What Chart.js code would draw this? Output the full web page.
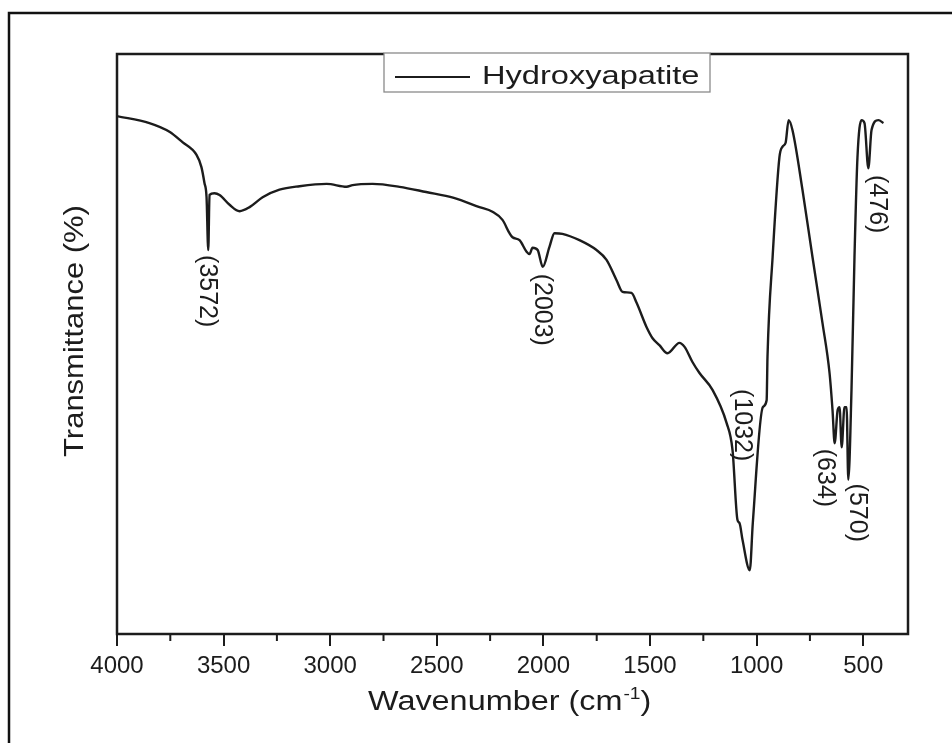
<!DOCTYPE html>
<html><head><meta charset="utf-8">
<script src="https://cdn.jsdelivr.net/npm/chart.js@4"></script>
<style>html,body{margin:0;padding:0;background:#fff}canvas{display:block}</style>
</head><body>
<canvas id="c" width="952" height="743"></canvas>
<script>
// ---- data ----
const seriesLabel = 'Hydroxyapatite';
const wavenumbers = [4000,3848,3754,3693,3627,3604,3590,3580,3572,3566,3543,3519,3472,3425,3378,3317,3238,3144,3017,2923,2895,2801,2675,2550,2420,2300,2239,2192,2159,2145,2112,2079,2065,2051,2027,2003,1972,1948,1911,1831,1751,1704,1657,1629,1587,1563,1516,1488,1456,1418,1362,1338,1301,1268,1207,1141,1113,1090,1080,1066,1032,1018,971,953,949,925,893,879,864,850,832,785,738,691,658,644,634,620,611,601,588,578,570,555,541,527,508,494,476,461,429,405];
const transmittance = [89.3,88.1,86.6,84.8,82.6,80.5,77.8,75.3,66.2,75.7,76.0,75.7,74.0,72.9,73.6,75.3,76.6,77.2,77.6,77.1,77.4,77.6,77.1,76.2,75.2,73.6,72.8,71.4,69.1,68.4,67.9,65.9,65.5,66.6,66.2,63.3,66.7,69.1,69.0,67.9,66.2,64.5,61.0,59.0,58.8,57.1,52.9,51.0,49.8,48.4,50.2,49.5,46.9,45.0,42.1,36.4,31.7,19.7,19.1,16.2,11.0,19.1,39.1,40.3,47.8,65.0,82.2,84.0,84.7,88.6,86.9,76.6,65.0,53.6,45.0,38.6,32.9,38.6,39.1,32.2,39.1,39.1,26.6,42.1,65.0,82.2,88.6,88.1,80.3,86.9,88.6,88.1];
const majorTicks = [4000,3500,3000,2500,2000,1500,1000,500];
const minorTicks = [3750,3250,2750,2250,1750,1250,750];
const peakLabels = ['(3572)','(2003)','(1032)','(634)','(570)','(476)'];
const peakLabelX = [3580,2009,1071,682,532,438];
const peakLabelY = [59.1,55.9,36.0,26.9,20.9,74.1];
const xTitleMain = 'Wavenumber (cm';
const xTitleSup = '-1';
const xTitleEnd = ')';
const yTitle = 'Transmittance (%)';

const INK = '#1c1c1c';
const FONT = '"Liberation Sans", Arial, sans-serif';

function stretchedText(ctx, text, x, y, sx, size, align) {
  ctx.save();
  ctx.translate(x, y);
  ctx.scale(sx, 1);
  ctx.font = size + 'px ' + FONT;
  ctx.textAlign = align || 'left';
  ctx.fillText(text, 0, 0);
  const w = ctx.measureText(text).width * sx;
  ctx.restore();
  return w;
}

const decor = {
  id: 'decor',
  beforeDraw(chart) {
    const ctx = chart.ctx;
    ctx.save();
    ctx.fillStyle = '#fff';
    ctx.fillRect(0, 0, chart.width, chart.height);
    ctx.strokeStyle = '#111';
    ctx.lineWidth = 2.5;
    ctx.beginPath();
    ctx.moveTo(9, chart.height);
    ctx.lineTo(9, 13);
    ctx.lineTo(chart.width, 13);
    ctx.stroke();
    ctx.restore();
  },
  afterDraw(chart) {
    const ctx = chart.ctx;
    const a = chart.chartArea;
    const xs = chart.scales.x, ys = chart.scales.y;
    ctx.save();
    // plot frame
    ctx.strokeStyle = INK;
    ctx.lineWidth = 2.5;
    ctx.strokeRect(a.left, a.top, a.right - a.left, a.bottom - a.top);
    // minor ticks
    ctx.lineWidth = 2;
    ctx.beginPath();
    minorTicks.forEach(v => {
      const px = xs.getPixelForValue(v);
      ctx.moveTo(px, a.bottom);
      ctx.lineTo(px, a.bottom + 7);
    });
    ctx.stroke();
    // legend box
    const lx = 384, ly = a.top - 1, lw = 326, lh = 39;
    ctx.fillStyle = '#fff';
    ctx.fillRect(lx, ly - 2, lw, lh + 2);
    ctx.strokeStyle = '#8a8a8a';
    ctx.lineWidth = 1.3;
    ctx.strokeRect(lx, ly, lw, lh);
    ctx.strokeStyle = INK;
    ctx.lineWidth = 2;
    ctx.beginPath();
    ctx.moveTo(lx + 11, ly + 24);
    ctx.lineTo(lx + 86, ly + 24);
    ctx.stroke();
    ctx.fillStyle = INK;
    stretchedText(ctx, chart.data.datasets[0].label, lx + 98, ly + 31, 1.23, 26.5);
    // x title
    let x = 368;
    const by = 710;
    x += stretchedText(ctx, xTitleMain, x, by, 1.2, 27);
    x += stretchedText(ctx, xTitleSup, x + 1, by - 11, 1.2, 16) + 1;
    stretchedText(ctx, xTitleEnd, x, by, 1.2, 27);
    // y title
    ctx.save();
    ctx.translate(83, 331);
    ctx.rotate(-Math.PI / 2);
    stretchedText(ctx, yTitle, 0, 0, 1.147, 27, 'center');
    ctx.restore();
    // peak labels
    ctx.font = '25px ' + FONT;
    ctx.textAlign = 'center';
    ctx.textBaseline = 'middle';
    peakLabels.forEach((t, i) => {
      const px = xs.getPixelForValue(peakLabelX[i]);
      const py = ys.getPixelForValue(peakLabelY[i]);
      ctx.save();
      ctx.translate(px, py);
      ctx.rotate(Math.PI / 2);
      ctx.fillText(t, 0, 0);
      ctx.restore();
    });
    ctx.restore();
  }
};

new Chart(document.getElementById('c'), {
  type: 'line',
  data: {
    datasets: [{
      label: seriesLabel,
      data: wavenumbers.map((w, i) => ({x: w, y: transmittance[i]})),
      borderColor: INK,
      borderWidth: 2.4,
      pointRadius: 0,
      cubicInterpolationMode: 'monotone',
      fill: false
    }]
  },
  options: {
    responsive: false,
    animation: false,
    layout: {padding: {left: 117, right: 44, top: 54, bottom: 0}},
    plugins: {legend: {display: false}, tooltip: {enabled: false}},
    scales: {
      x: {
        type: 'linear',
        reverse: true,
        min: 290,
        max: 4000,
        afterBuildTicks(scale) { scale.ticks = majorTicks.map(v => ({value: v})); },
        afterFit(scale) { scale.height = 109; },
        border: {display: false},
        grid: {drawOnChartArea: false, drawTicks: true, tickLength: 12, color: INK, lineWidth: 2},
        ticks: {
          autoSkip: false,
          maxRotation: 0,
          padding: 6,
          color: INK,
          font: {family: FONT, size: 24},
          callback: v => String(v)
        }
      },
      y: {
        display: false,
        min: 0,
        max: 100
      }
    }
  },
  plugins: [decor]
});
</script>
</body></html>
